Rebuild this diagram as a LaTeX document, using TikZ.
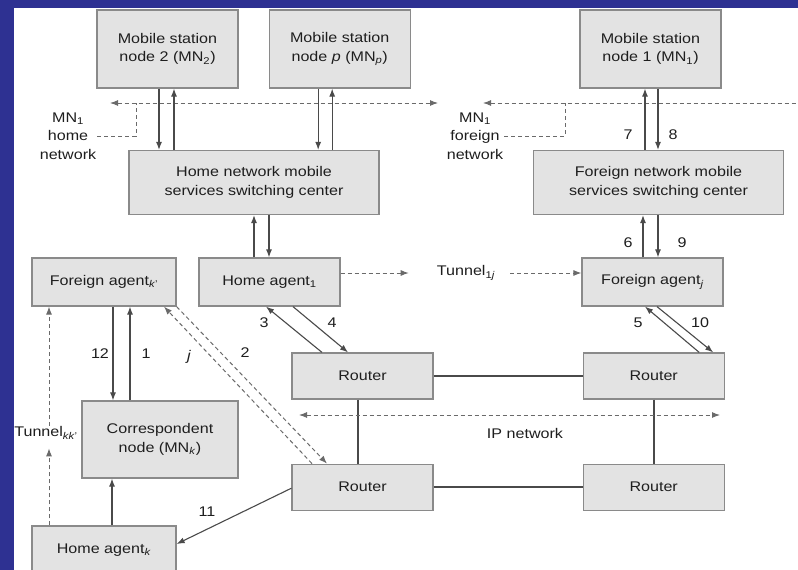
\documentclass[tikz,border=0pt]{standalone}
\usepackage{fontspec}
\setmainfont{Liberation Sans}[FakeStretch=1.15]
\usepackage{tikz}
\usetikzlibrary{arrows.meta,positioning,calc}
\definecolor{frame}{HTML}{2E3192}
\definecolor{boxfill}{HTML}{E3E3E3}
\definecolor{boxline}{HTML}{8A8A8A}
\definecolor{wire}{HTML}{4A4A4A}
\definecolor{dashgray}{HTML}{6A6A6A}
\definecolor{ink}{HTML}{1E1E1E}

\tikzset{
  unit/.style={draw=boxline,fill=boxfill,line width=1.2pt,inner sep=0pt,align=center,
    text=ink,font=\fontsize{14}{18.5}\selectfont},
  msbox/.style={unit,minimum width=141pt,minimum height=78pt},
  mscbox/.style={unit,minimum width=250pt,minimum height=64pt},
  agbox/.style={unit,minimum width=144pt,minimum height=48pt},
  rtbox/.style={unit,minimum width=141pt,minimum height=46pt},
  cnbox/.style={unit,minimum width=156pt,minimum height=77pt},
  txt/.style={inner sep=1pt,align=center,text=ink,font=\fontsize{14}{18.5}\selectfont},
  arr/.style={-{Latex[length=8pt,width=6pt]},wire,line width=1.1pt},
  link/.style={wire,line width=2pt},
  dsh/.style={dashgray,line width=1pt,dash pattern=on 4pt off 3pt},
  dsharr/.style={dsh,-{Latex[length=8pt,width=6pt]}},
  dshboth/.style={dsh,{Latex[length=8pt,width=6pt]}-{Latex[length=8pt,width=6pt]}}
}

\begin{document}
\begin{tikzpicture}[x=1pt,y=-1pt,node distance=30pt]
  \useasboundingbox (0,0) rectangle (798,570);
  \clip (0,0) rectangle (798,570);
  \fill[frame] (0,0) rectangle (798,570);
  \fill[white] (14,8) rectangle (798,570);

  % mobile stations and switching centers
  \node[msbox] (ms2) at (167.5,49) {Mobile station\\node 2 (MN\textsubscript{2})};
  \node[msbox,right=30pt of ms2] (msp) {Mobile station\\node \textit{p} (MN\textsubscript{\textit{p}})};
  \node[msbox] (ms1) at (650.5,49) {Mobile station\\node 1 (MN\textsubscript{1})};
  \node[mscbox] (hmsc) at (254,182.5) {Home network mobile\\services switching center};
  \node[mscbox] (fmsc) at (658.5,182.5) {Foreign network mobile\\services switching center};

  % agents
  \node[agbox] (fak) at (104,282) {Foreign agent\textsubscript{\textit{k}'}};
  \node[agbox,minimum width=141pt] (ha1) at (269.5,282) {Home agent\textsubscript{1}};
  \node[agbox,minimum width=141pt] (faj) at (652.5,282) {Foreign agent\textsubscript{\textit{j}}};
  \node[cnbox] (cn) at (160,439.5) {Correspondent\\node (MN\textsubscript{\textit{k}})};
  \node[agbox] (hak) at (104,550) {Home agent\textsubscript{\textit{k}}};

  % IP network routers
  \node[rtbox] (r1) at (362.5,376) {Router};
  \node[rtbox,right=149pt of r1] (r2) {Router};
  \node[rtbox,below=64pt of r1] (r3) {Router};
  \node[rtbox,below=64pt of r2] (r4) {Router};
  \draw[link] (r1) -- (r2);
  \draw[link] (r3) -- (r4);
  \draw[link] ([xshift=-4.5pt]r1.south) -- ([xshift=-4.5pt]r3.north);
  \draw[link] (r2) -- (r4);

  % home / foreign network spans
  \coordinate (hnw) at (110,103);
  \coordinate (hne) at (438,103);
  \coordinate (hnk) at (136,103);
  \coordinate (fnw) at (483,103);
  \coordinate (fne) at (805,103);
  \coordinate (fnk) at (565,103);
  \draw[dshboth] (hnw) -- (hne);
  \draw[dsh,{Latex[length=8pt,width=6pt]}-] (fnw) -- (fne);
  \node[txt] (hnlab) at (68,136) {MN\textsubscript{1}\\home\\network};
  \node[txt] (fnlab) at (475,136) {MN\textsubscript{1}\\foreign\\network};
  \draw[dsh] (hnlab.east) -| (hnk);
  \draw[dsh] (fnlab.east) -| (fnk);

  % station <-> switching center
  \draw[arr] ([xshift=-8.5pt]ms2.south) -- ([xshift=-8.5pt]ms2.south |- hmsc.north);
  \draw[arr] ([xshift=6.5pt]ms2.south |- hmsc.north) -- ([xshift=6.5pt]ms2.south);
  \draw[arr] ([xshift=-21.5pt]msp.south) -- ([xshift=-21.5pt]msp.south |- hmsc.north);
  \draw[arr] ([xshift=-7.5pt]msp.south |- hmsc.north) -- ([xshift=-7.5pt]msp.south);
  \draw[arr] ([xshift=-5.5pt]ms1.south |- fmsc.north) -- ([xshift=-5.5pt]ms1.south);
  \draw[arr] ([xshift=7.5pt]ms1.south) -- ([xshift=7.5pt]ms1.south |- fmsc.north);
  \node[txt] (n7) at (628,135) {7};
  \node[txt] (n8) at (673,135) {8};

  % switching center <-> agent
  \draw[arr] ([xshift=-15.5pt]ha1.north) -- ([xshift=-15.5pt]ha1.north |- hmsc.south);
  \draw[arr] ([xshift=-0.5pt]ha1.north |- hmsc.south) -- ([xshift=-0.5pt]ha1.north);
  \draw[arr] ([xshift=-9.5pt]faj.north) -- ([xshift=-9.5pt]faj.north |- fmsc.south);
  \draw[arr] ([xshift=5.5pt]faj.north |- fmsc.south) -- ([xshift=5.5pt]faj.north);
  \node[txt] (n6) at (628,243) {6};
  \node[txt] (n9) at (682,243) {9};

  % agents <-> routers
  \draw[arr] ([xshift=-40.5pt]r1.north) -- ([xshift=-3.5pt]ha1.south);
  \draw[arr] ([xshift=23.5pt]ha1.south) -- ([xshift=-14.5pt]r1.north);
  \node[txt] (n3) at (264,323) {3};
  \node[txt] (n4) at (332,323) {4};
  \draw[arr] ([xshift=45.5pt]r2.north) -- ([xshift=-7.5pt]faj.south);
  \draw[arr] ([xshift=4.5pt]faj.south) -- ([xshift=59.5pt]r2.north);
  \node[txt] (n5) at (638,323) {5};
  \node[txt] (n10) at (700,323) {10};

  % tunnel between home agent and foreign agent
  \node[txt] (t1j) at (466,273) {Tunnel\textsubscript{1\textit{j}}};
  \draw[dsharr,shorten >=27pt] (ha1.east |- t1j.west) -- (t1j.west);
  \draw[dsharr,shorten <=14pt] (t1j.east) -- (faj.west |- t1j.east);

  % IP network
  \coordinate (ipw) at (299,415);
  \coordinate (ipe) at (720,415);
  \draw[dshboth] (ipw) -- (ipe);
  \node[txt] (ipn) at (525,433) {IP network};

  % correspondent side
  \draw[arr] ([xshift=9pt]fak.south) -- ([xshift=9pt]fak.south |- cn.north);
  \draw[arr] ([xshift=26pt]fak.south |- cn.north) -- ([xshift=26pt]fak.south);
  \node[txt] (n12) at (100,354) {12};
  \node[txt] (n1) at (146,354) {1};
  \draw[dsharr] ([xshift=-50.5pt]r3.north) -- ([xshift=60pt]fak.south);
  \draw[dsharr] (fak.south east) -- ([xshift=-35.5pt]r3.north);
  \node[txt] (nj) at (189,357) {\textit{j}};
  \node[txt] (n2) at (245,353) {2};
  \draw[arr] ([xshift=8pt]hak.north) -- ([xshift=8pt]hak.north |- cn.south);
  \draw[arr] ([yshift=-1pt]r3.west) -- ([yshift=6pt]hak.east);
  \node[txt] (n11) at (207,512) {11};

  % tunnel between home agent k and foreign agent k'
  \node[txt] (tkk) at (46,433) {Tunnel\textsubscript{\textit{kk}'}};
  \draw[dsharr,shorten >=8pt] ([xshift=-55pt]hak.north) -- ([xshift=-55pt]hak.north |- tkk.south);
  \draw[dsharr] ([xshift=-55pt]fak.south |- tkk.north) -- ([xshift=-55pt]fak.south);
\end{tikzpicture}
\end{document}
